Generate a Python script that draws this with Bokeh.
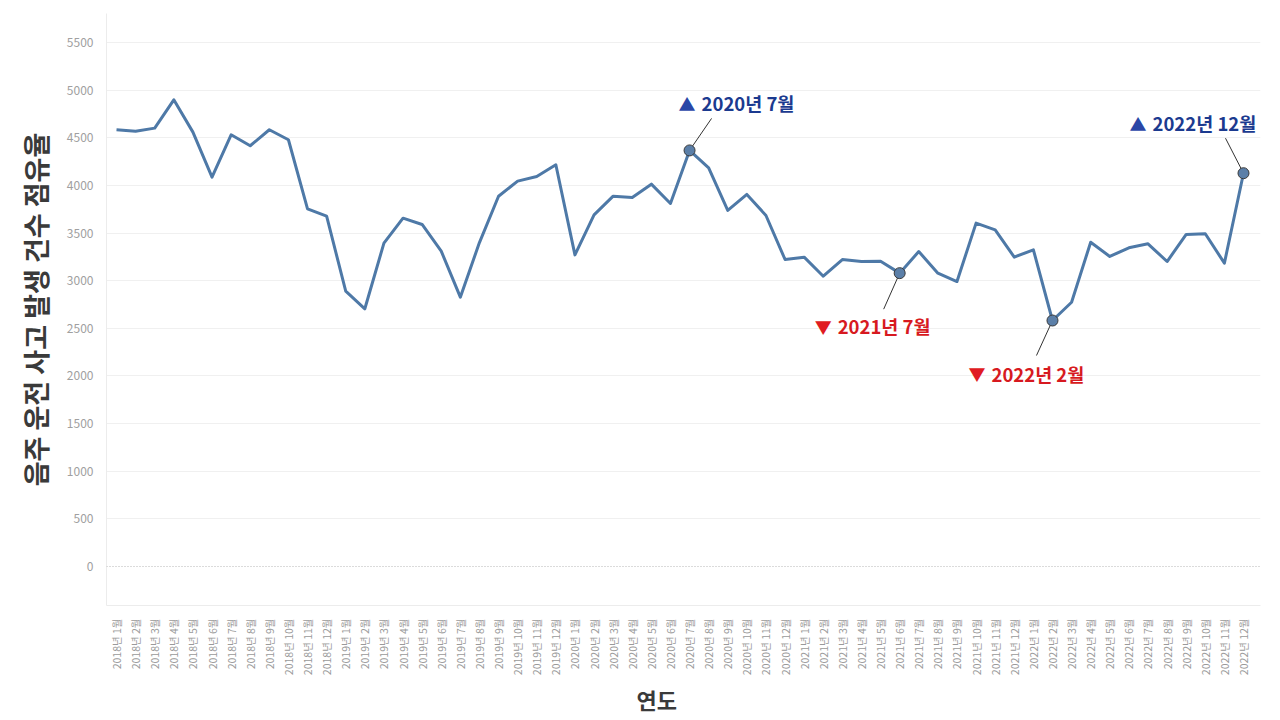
import math
from bokeh.plotting import figure
from bokeh.models import Range1d, FixedTicker, Span, ColumnDataSource, Title
from bokeh.core.properties import value
from bokeh.embed import file_html
from bokeh.resources import INLINE

# ---------------- data ----------------
years = [2018, 2019, 2020, 2021, 2022]
months = [1, 2, 3, 4, 5, 6, 7, 8, 9, 10, 11, 12]
month_labels = [f"{y}년 {m}월" for y in years for m in months]

counts = [
    4584, 4569, 4601, 4898, 4559, 4087, 4531, 4416, 4584, 4479, 3754, 3677,   # 2018
    2890, 2705, 3394, 3656, 3590, 3310, 2827, 3400, 3886, 4045, 4094, 4216,   # 2019
    3271, 3691, 3887, 3873, 4013, 3810, 4367, 4185, 3737, 3905, 3684, 3222,   # 2020
    3247, 3047, 3222, 3201, 3203, 3079, 3306, 3079, 2991, 3604, 3534, 3247,   # 2021
    3324, 2582, 2774, 3404, 3254, 3345, 3387, 3201, 3485, 3492, 3184, 4128,   # 2022
]
y_ticks = [0, 500, 1000, 1500, 2000, 2500, 3000, 3500, 4000, 4500, 5000, 5500]

ann_index = [30, 59, 41, 49]
ann_text = ["2020년 7월", "2022년 12월", "2021년 7월", "2022년 2월"]
ann_kind = ["up", "up", "down", "down"]

# ---------------- styling / layout ----------------
FONT = "Noto Sans CJK KR"
W, H = 1264, 717
ML, MR, MT, MB = 106, 4, 13, 112
X0, X1 = -0.524, 59.89
Y0, Y1 = -409, 5804
frame_w = W - ML - MR
frame_h = H - MT - MB
ppx = frame_w / (X1 - X0)
ppy = frame_h / (Y1 - Y0)

# pixel offsets (screen, y down): leader end, label left/center
offsets = {
    30: dict(lead=(22, -32), lab=(-11, -47)),
    59: dict(lead=(-18, -35), lab=(-114, -50)),
    41: dict(lead=(-16, 36), lab=(-85, 53)),
    49: dict(lead=(-16, 35), lab=(-84, 53)),
}
colors = {"up": ("#2b46a6", "#1b3a8f"), "down": ("#e01b22", "#d71920")}

xs = list(range(len(counts)))

p = figure(width=W, height=H, output_backend="svg", toolbar_location=None,
           x_range=Range1d(X0, X1), y_range=Range1d(Y0, Y1),
           min_border_left=ML, min_border_right=MR, min_border_top=MT,
           min_border_bottom=MB)
p.outline_line_color = None
p.background_fill_color = "white"

# axes
p.xaxis.ticker = FixedTicker(ticks=xs)
p.xaxis.major_label_overrides = {i: lab for i, lab in enumerate(month_labels)}
p.xaxis.major_label_orientation = math.pi / 2
p.xaxis.major_label_text_font = FONT
p.xaxis.major_label_text_font_size = "10.5px"
p.xaxis.major_label_text_color = "#9a9a9a"
p.xaxis.major_label_standoff = 7

x_title = Title(text="연도", align="left", offset=530, standoff=4,
                text_font=FONT, text_font_size="22px", text_font_style="bold",
                text_color="#3a3a3a")
p.add_layout(x_title, "below")

p.yaxis.ticker = FixedTicker(ticks=y_ticks)
p.yaxis.major_label_text_font = FONT
p.yaxis.major_label_text_font_size = "12px"
p.yaxis.major_label_text_color = "#a0a0a0"
p.yaxis.major_label_standoff = 7
p.yaxis.axis_label = "음주 운전 사고 발생 건수 점유율"
p.yaxis.axis_label_text_font = FONT
p.yaxis.axis_label_text_font_size = "27px"
p.yaxis.axis_label_text_font_style = "bold"
p.yaxis.axis_label_text_color = "#3a3a3a"
p.yaxis.axis_label_standoff = 9

for ax in (p.xaxis, p.yaxis):
    ax.axis_line_color = "#ececec"
    ax.major_tick_line_color = None
    ax.minor_tick_line_color = None

p.xgrid.grid_line_color = None
p.ygrid.ticker = FixedTicker(ticks=y_ticks[1:])
p.ygrid.grid_line_color = "#f0f0f0"
p.add_layout(Span(location=0, dimension="width", line_color="#b5b5b5",
                  line_dash="1 2", line_width=1))

# main line
src = ColumnDataSource(dict(x=xs, y=counts))
p.line("x", "y", source=src, line_color="#4e79a7", line_width=3,
       line_join="round")

# annotations
for idx, txt, kind in zip(ann_index, ann_text, ann_kind):
    val = counts[idx]
    o = offsets[idx]
    lx = idx + o["lead"][0] / ppx
    ly = val - o["lead"][1] / ppy
    p.segment(x0=[idx], y0=[val], x1=[lx], y1=[ly], line_color="#333333",
              line_width=1)
    tri_c, txt_c = colors[kind]
    sym = "▲" if kind == "up" else "▼"
    p.text(x=[idx], y=[val], text=[sym], x_offset=o["lab"][0],
           y_offset=o["lab"][1], text_font=value(FONT), text_font_size="17px",
           text_color=tri_c, text_align="left", text_baseline="middle")
    p.text(x=[idx], y=[val], text=[txt], x_offset=o["lab"][0] + 23,
           y_offset=o["lab"][1], text_font=value(FONT), text_font_size="18.5px",
           text_font_style="bold", text_color=txt_c, text_align="left",
           text_baseline="middle")

p.scatter(x=ann_index, y=[counts[i] for i in ann_index], size=11,
          fill_color="#5b7fa8", line_color="#3a3a3a", line_width=1)

open("out.html", "w").write(file_html(p, INLINE))
